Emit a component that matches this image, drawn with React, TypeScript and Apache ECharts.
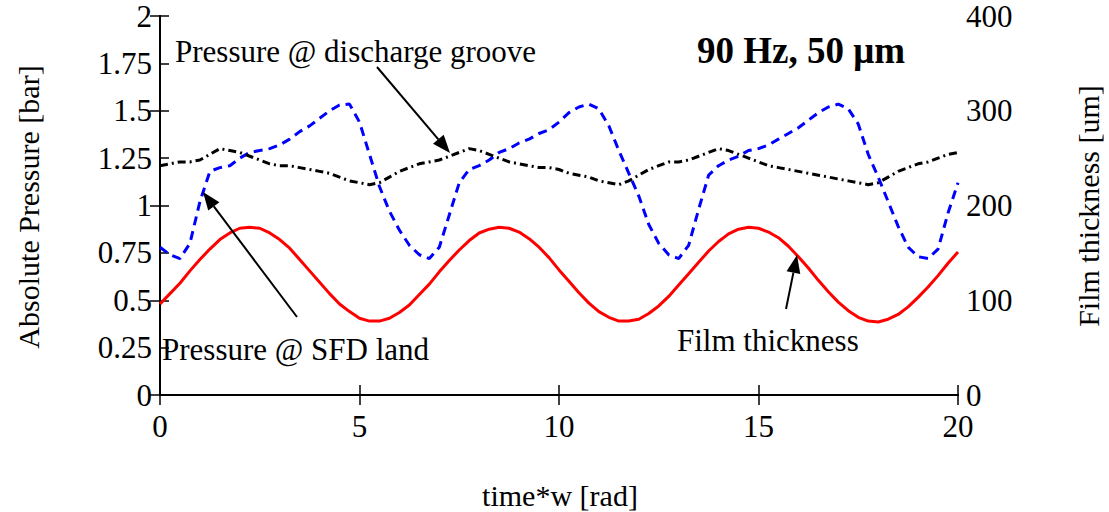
import React, { useEffect, useRef } from "react";
import * as echarts from "echarts";

const timeRad = [
  0, 0.25, 0.5, 0.75, 1, 1.25, 1.5, 1.75, 2, 2.25, 2.5, 2.75, 3, 3.25, 3.5, 3.75,
  4, 4.25, 4.5, 4.75, 5, 5.25, 5.5, 5.75, 6, 6.25, 6.5, 6.75, 7, 7.25, 7.5, 7.75,
  8, 8.25, 8.5, 8.75, 9, 9.25, 9.5, 9.75, 10, 10.25, 10.5, 10.75, 11, 11.25, 11.5, 11.75,
  12, 12.25, 12.5, 12.75, 13, 13.25, 13.5, 13.75, 14, 14.25, 14.5, 14.75, 15, 15.25, 15.5, 15.75,
  16, 16.25, 16.5, 16.75, 17, 17.25, 17.5, 17.75, 18, 18.25, 18.5, 18.75, 19, 19.25, 19.5, 19.75, 20,
];

// Film thickness [um] (right axis)
const filmThicknessUm = [
  96, 107, 118, 131, 143, 154, 164, 171, 176, 177, 176, 171, 164, 155, 143, 131,
  119, 107, 96, 88, 81, 78, 78, 81, 87, 95, 106, 117, 130, 142, 153, 163,
  171, 175, 177, 176, 172, 165, 156, 145, 132, 120, 108, 97, 88, 82, 78, 78,
  80, 86, 94, 104, 116, 128, 140, 152, 162, 170, 175, 177, 176, 172, 166, 157,
  146, 134, 121, 109, 98, 89, 82, 78, 77, 80, 85, 93, 103, 114, 126, 139, 151,
];

// Pressure @ SFD land [bar] (left axis)
const pressureSfdLand = [
  0.78, 0.74, 0.72, 0.8, 1.02, 1.18, 1.2, 1.21, 1.25, 1.28, 1.29, 1.3, 1.32, 1.35, 1.39, 1.42,
  1.46, 1.5, 1.53, 1.535, 1.44, 1.27, 1.1, 0.97, 0.87, 0.79, 0.74, 0.72, 0.78, 0.95, 1.12, 1.19,
  1.21, 1.24, 1.28, 1.3, 1.33, 1.35, 1.38, 1.4, 1.44, 1.49, 1.52, 1.535, 1.51, 1.42, 1.29, 1.17,
  1.05, 0.9, 0.8, 0.74, 0.72, 0.79, 0.98, 1.16, 1.21, 1.24, 1.26, 1.29, 1.3, 1.32, 1.35, 1.38,
  1.41, 1.45, 1.49, 1.52, 1.535, 1.51, 1.43, 1.27, 1.15, 1.02, 0.89, 0.78, 0.73, 0.72, 0.77, 0.96, 1.12,
];

// Pressure @ discharge groove [bar] (left axis)
const pressureGroove = [
  1.21, 1.22, 1.23, 1.23, 1.24, 1.27, 1.3, 1.29, 1.28, 1.26, 1.24, 1.22, 1.21, 1.21, 1.2, 1.19,
  1.18, 1.17, 1.15, 1.13, 1.12, 1.11, 1.12, 1.15, 1.18, 1.2, 1.22, 1.23, 1.24, 1.26, 1.28, 1.3,
  1.29, 1.27, 1.25, 1.23, 1.22, 1.21, 1.2, 1.2, 1.19, 1.17, 1.16, 1.15, 1.13, 1.12, 1.11, 1.13,
  1.16, 1.19, 1.21, 1.23, 1.23, 1.24, 1.26, 1.28, 1.3, 1.29, 1.27, 1.25, 1.23, 1.21, 1.2, 1.19,
  1.18, 1.17, 1.16, 1.15, 1.14, 1.13, 1.12, 1.11, 1.12, 1.15, 1.18, 1.2, 1.22, 1.23, 1.25, 1.27, 1.28,
];

const xTitle = "time*w [rad]";
const leftTitle = "Absolute Pressure [bar]";
const rightTitle = "Film thickness [um]";
const caseLabel = "90 Hz, 50 μm";
const grooveLabel = "Pressure @ discharge groove";
const landLabel = "Pressure @ SFD land";
const filmLabel = "Film thickness";

const FONT = "'Liberation Serif', 'Times New Roman', serif";

function pairs(ys: number[]) {
  return ys.map((y, i) => [timeRad[i], y]);
}

function arrow(x1: number, y1: number, x2: number, y2: number) {
  const dx = x2 - x1;
  const dy = y2 - y1;
  const len = Math.sqrt(dx * dx + dy * dy);
  const ux = dx / len;
  const uy = dy / len;
  const px = -uy;
  const py = ux;
  const L = 18;
  const W = 7;
  const bx = x2 - ux * L;
  const by = y2 - uy * L;
  return [
    {
      type: "line",
      shape: { x1, y1, x2: bx, y2: by },
      style: { stroke: "#000", lineWidth: 2 },
      z: 100,
    },
    {
      type: "polygon",
      shape: {
        points: [
          [x2, y2],
          [bx + px * W, by + py * W],
          [bx - px * W, by - py * W],
        ],
      },
      style: { fill: "#000" },
      z: 100,
    },
  ];
}

export default function App() {
  const ref = useRef<HTMLDivElement>(null);

  useEffect(() => {
    if (!ref.current) return;
    const chart = echarts.init(ref.current, undefined, { renderer: "svg" });
    const labelStyle = { color: "#000", fontFamily: FONT, fontSize: 31 };
    const axisLine = { show: true, lineStyle: { color: "#000", width: 2 } };
    const tickStyle = { color: "#000", width: 1.5 };
    chart.setOption({
      animation: false,
      backgroundColor: "#fff",
      grid: { left: 160, right: 151, top: 16, bottom: 117, containLabel: false },
      xAxis: [
        {
          type: "value",
          position: "bottom",
          min: 0,
          max: 20,
          interval: 5,
          axisLine,
          axisTick: { show: true, inside: true, length: 10, lineStyle: tickStyle },
          axisLabel: { ...labelStyle, margin: 16 },
          splitLine: { show: false },
        },
        {
          type: "value",
          position: "top",
          min: 0,
          max: 20,
          interval: 5,
          axisLine,
          axisTick: { show: true, inside: true, length: 10, lineStyle: tickStyle },
          axisLabel: { show: false },
          splitLine: { show: false },
        },
      ],
      yAxis: [
        {
          type: "value",
          position: "left",
          min: 0,
          max: 2,
          interval: 0.25,
          axisLine,
          axisTick: { show: true, inside: true, length: 9, lineStyle: tickStyle },
          axisLabel: { ...labelStyle, margin: 8 },
          splitLine: { show: false },
        },
        {
          type: "value",
          position: "right",
          min: 0,
          max: 400,
          interval: 100,
          axisLine,
          axisTick: { show: true, inside: true, length: 10, lineStyle: tickStyle },
          axisLabel: { ...labelStyle, margin: 8 },
          splitLine: { show: false },
        },
      ],
      series: [
        {
          name: landLabel,
          type: "line",
          xAxisIndex: 0,
          yAxisIndex: 0,
          data: pairs(pressureSfdLand),
          symbol: "none",
          lineStyle: { color: "#0000ff", width: 3, type: [9, 6] },
        },
        {
          name: grooveLabel,
          type: "line",
          xAxisIndex: 0,
          yAxisIndex: 0,
          data: pairs(pressureGroove),
          symbol: "none",
          lineStyle: { color: "#000", width: 3, type: [8, 4, 2, 4] },
        },
        {
          name: filmLabel,
          type: "line",
          xAxisIndex: 0,
          yAxisIndex: 1,
          data: pairs(filmThicknessUm),
          symbol: "none",
          lineStyle: { color: "#ff0000", width: 3 },
        },
      ],
      graphic: [
        {
          type: "text",
          x: 28,
          y: 207,
          rotation: Math.PI / 2,
          style: { text: leftTitle, fill: "#000", font: `30px ${FONT}`, textAlign: "center", textVerticalAlign: "middle" },
        },
        {
          type: "text",
          x: 1088,
          y: 206,
          rotation: Math.PI / 2,
          style: { text: rightTitle, fill: "#000", font: `30px ${FONT}`, textAlign: "center", textVerticalAlign: "middle" },
        },
        {
          type: "text",
          x: 560,
          y: 495,
          style: { text: xTitle, fill: "#000", font: `30px ${FONT}`, textAlign: "center", textVerticalAlign: "middle" },
        },
        {
          type: "text",
          x: 801,
          y: 50,
          style: { text: caseLabel, fill: "#000", font: `bold 37px ${FONT}`, textAlign: "center", textVerticalAlign: "middle" },
        },
        {
          type: "text",
          x: 175,
          y: 51,
          style: { text: grooveLabel, fill: "#000", font: `31px ${FONT}`, textAlign: "left", textVerticalAlign: "middle" },
        },
        {
          type: "text",
          x: 162,
          y: 349,
          style: { text: landLabel, fill: "#000", font: `31px ${FONT}`, textAlign: "left", textVerticalAlign: "middle" },
        },
        {
          type: "text",
          x: 677,
          y: 340,
          style: { text: filmLabel, fill: "#000", font: `31px ${FONT}`, textAlign: "left", textVerticalAlign: "middle" },
        },
        ...arrow(377, 67, 450, 153),
        ...arrow(297, 317, 203, 192),
        ...arrow(786, 309, 797, 255),
      ],
    });
    return () => chart.dispose();
  }, []);

  return (
    <div
      ref={ref}
      style={{ position: "fixed", left: 0, top: 0, width: 1109, height: 512, background: "#fff" }}
    />
  );
}
